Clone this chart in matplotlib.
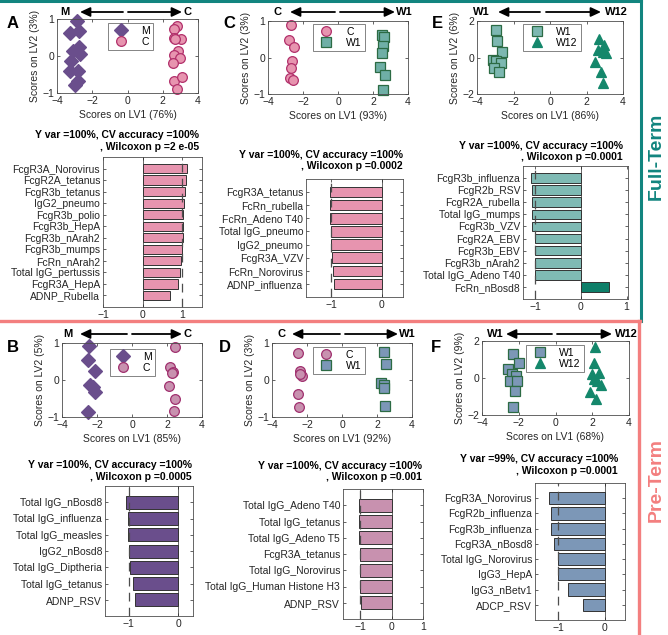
import matplotlib
matplotlib.use("Agg")
import matplotlib.pyplot as plt
from matplotlib.patches import FancyArrowPatch
from matplotlib.lines import Line2D

plt.rcParams['font.family'] = ['Liberation Sans', 'DejaVu Sans']

W, H = 668, 635

# ---------------- data: scores plots ----------------
# panel A  (M vs C, full-term)
a_m_x = [-2.88, -3.29, -2.76, -2.73, -3.10, -2.71, -3.20, -3.24, -2.83, -2.79, -3.00]
a_m_y = [0.95, 0.63, 0.68, 0.25, 0.13, 0.05, -0.13, -0.41, -0.41, -0.68, -0.79]
a_c_x = [2.82, 2.65, 2.61, 3.05, 2.86, 2.65, 2.96, 2.56, 2.61, 3.11, 2.81, 2.70]
a_c_y = [0.81, 0.72, 0.48, 0.45, 0.14, 0.02, -0.05, -0.20, -0.67, -0.58, -0.90, 0.45]
# panel C  (C vs W1, full-term)
c_c_x = [-2.69, -2.79, -2.50, -2.64, -2.69, -2.73, -2.60]
c_c_y = [0.90, 0.47, 0.28, -0.09, -0.30, -0.55, -0.62]
c_w_x = [2.54, 2.62, 2.58, 2.52, 2.39, 2.69, 2.56]
c_w_y = [0.63, 0.56, 0.31, 0.11, -0.25, -0.47, -0.89]
# panel E  (W1 vs W12, full-term)
e_w1_x = [-2.98, -2.90, -2.63, -3.14, -2.98, -2.70, -3.05, -2.81]
e_w1_y = [1.49, 0.91, 0.32, -0.14, -0.19, -0.28, -0.59, -0.82]
e_w12_x = [2.70, 2.94, 2.63, 2.89, 3.07, 2.47, 2.81, 2.89]
e_w12_y = [0.99, 0.68, 0.41, 0.32, 0.26, -0.24, -0.82, -1.41]
# panel B  (M vs C, pre-term)
b_m_x = [-2.44, -2.53, -2.10, -2.38, -2.13, -2.51, -2.25]
b_m_y = [0.91, 0.55, 0.23, -0.14, -0.32, -0.86, -0.19]
b_c_x = [2.44, 2.19, 2.34, 2.10, 2.48, 2.38, 2.28]
b_c_y = [0.89, 0.35, 0.22, -0.17, -0.50, -0.85, 0.20]
# panel D  (C vs W1, pre-term)
d_c_x = [-2.51, -2.42, -2.29, -2.42, -2.53, -2.44]
d_c_y = [0.73, 0.25, 0.11, 0.16, -0.38, -0.73]
d_w_x = [2.38, 2.50, 2.25, 2.38, 2.42, 2.48]
d_w_y = [0.75, 0.43, -0.07, -0.14, -0.21, -0.70]
# panel F  (W1 vs W12, pre-term)
f_w1_x = [-2.32, -1.99, -2.59, -2.37, -2.13, -2.46, -2.10, -2.19, -2.30]
f_w1_y = [1.28, 0.83, 0.51, 0.24, 0.10, -0.17, -0.17, -0.71, -1.59]
f_w12_x = [2.16, 2.08, 1.97, 2.35, 2.08, 2.26, 2.49, 1.86, 2.22]
f_w12_y = [1.68, 0.82, 0.24, 0.28, -0.03, -0.15, -0.40, -0.75, -1.16]

# ---------------- data: loadings bars ----------------
a_labels = ['FcgR3A_Norovirus', 'FcgR2A_tetanus', 'FcgR3b_tetanus', 'IgG2_pneumo',
            'FcgR3b_polio', 'FcgR3b_HepA', 'FcgR3b_nArah2', 'FcgR3b_mumps',
            'FcRn_nArah2', 'Total IgG_pertussis', 'FcgR3A_HepA', 'ADNP_Rubella']
a_vals = [1.11, 1.09, 1.08, 1.05, 1.03, 1.02, 1.02, 1.00, 0.98, 0.95, 0.90, 0.70]

c_labels = ['FcgR3A_tetanus', 'FcRn_rubella', 'FcRn_Adeno T40', 'Total IgG_pneumo',
            'IgG2_pneumo', 'FcgR3A_VZV', 'FcRn_Norovirus', 'ADNP_influenza']
c_vals = [-1.03, -1.02, -1.02, -1.00, -1.00, -0.99, -0.97, -0.94]

e_labels = ['FcgR3b_influenza', 'FcgR2b_RSV', 'FcgR2A_rubella', 'Total IgG_mumps',
            'FcgR3b_VZV', 'FcgR2A_EBV', 'FcgR3b_EBV', 'FcgR3b_nArah2',
            'Total IgG_Adeno T40', 'FcRn_nBosd8']
e_vals = [-1.09, -1.07, -1.07, -1.07, -1.07, -1.01, -1.01, -1.01, -1.01, 0.61]

b_labels = ['Total IgG_nBosd8', 'Total IgG_influenza', 'Total IgG_measles', 'IgG2_nBosd8',
            'Total IgG_Diptheria', 'Total IgG_tetanus', 'ADNP_RSV']
b_vals = [-1.05, -1.02, -1.02, -0.99, -0.98, -0.91, -0.88]

d_labels = ['Total IgG_Adeno T40', 'Total IgG_tetanus', 'Total IgG_Adeno T5', 'FcgR3A_tetanus',
            'Total IgG_Norovirus', 'Total IgG_Human Histone H3', 'ADNP_RSV']
d_vals = [-1.05, -1.05, -1.03, -1.00, -1.00, -1.00, -0.97]

f_labels = ['FcgR3A_Norovirus', 'FcgR2b_influenza', 'FcgR3b_influenza', 'FcgR3A_nBosd8',
            'Total IgG_Norovirus', 'IgG3_HepA', 'IgG3_nBetv1', 'ADCP_RSV']
f_vals = [-1.19, -1.16, -1.16, -1.09, -1.01, -1.01, -0.80, -0.46]

titles = {
    'A': ('Y var =100%, CV accuracy =100%', ', Wilcoxon p =2 e-05'),
    'C': ('Y var =100%, CV accuracy =100%', ', Wilcoxon p =0.0002'),
    'E': ('Y var =100%, CV accuracy =100%', ', Wilcoxon p =0.0001'),
    'B': ('Y var =100%, CV accuracy =100%', ', Wilcoxon p =0.0005'),
    'D': ('Y var =100%, CV accuracy =100%', ', Wilcoxon p =0.001'),
    'F': ('Y var =99%, CV accuracy =100%', ', Wilcoxon p =0.0001'),
}

# colours
PINK = '#E794AF'; PINK_E = '#B2306B'
MAUVE = '#C891AF'; MAUVE_E = '#A0306E'
PURPLE = '#6A4E8C'
TEAL = '#7DB8B1'; TEAL_D = '#0E7F69'; GREEN_E = '#2C6B44'
STEEL = '#7C97B7'
TRI = '#14876B'
FULL = '#12857F'; PRE = '#F37F7F'
GREY = '#262626'

FS = 7.5

fig = plt.figure(figsize=(W / 100, H / 100), dpi=100)


def box(l, t, r, b):
    return [l / W, 1 - b / H, (r - l) / W, (b - t) / H]


def fp(x, y):
    return (x / W, 1 - y / H)


def style(ax):
    for s in ax.spines.values():
        s.set_color('0.3')
        s.set_linewidth(0.6)
    ax.tick_params(direction='in', length=2.5, width=0.5, labelsize=FS,
                   colors=GREY, top=True, right=True, pad=2)


def scores(pos, groups, xlab, ylab, ylim, yticks, leg_xy):
    ax = fig.add_axes(box(*pos))
    for x, y, lab, mk, ms, fc, ec in groups:
        ax.plot(x, y, ls='none', marker=mk, ms=ms, mfc=fc, mec=ec, mew=0.9, label=lab,
                clip_on=False)
    ax.set_xlim(-4, 4)
    ax.set_ylim(*ylim)
    ax.set_xticks([-4, -2, 0, 2, 4])
    ax.set_yticks(yticks)
    style(ax)
    ax.set_xlabel(xlab, fontsize=FS, color=GREY, labelpad=3)
    ax.set_ylabel(ylab, fontsize=FS, color=GREY, labelpad=2)
    lg = ax.legend(loc='upper left', bbox_to_anchor=leg_xy, fontsize=FS, numpoints=1,
                   frameon=True, fancybox=False, edgecolor='0.3', handlelength=2.0,
                   handletextpad=0.9, borderpad=0.3, labelspacing=0.1, borderaxespad=0)
    lg.get_frame().set_linewidth(0.6)
    return ax


def loadings(pos, labels, vals, colors, xlim, xticks, ref, title, right, ty):
    ax = fig.add_axes(box(*pos))
    y = list(range(len(labels)))
    ax.barh(y, vals, height=0.8, color=colors, edgecolor='0.2', linewidth=0.7, zorder=2)
    ax.axvline(0, color='0.3', lw=0.6, zorder=1)
    ax.axvline(ref, color='0.3', lw=0.9, ls=(0, (7, 5)), zorder=3)
    ax.set_yticks(y)
    ax.set_yticklabels(labels)
    ax.set_ylim(len(labels), -1)
    ax.set_xlim(*xlim)
    ax.set_xticks(xticks)
    style(ax)
    fig.text(*fp(right, ty), title[0], ha='right', va='center', fontsize=FS, weight='bold')
    fig.text(*fp(right, ty + 11.5), title[1], ha='right', va='center', fontsize=FS, weight='bold')
    return ax


def arrows(left_lab, right_lab, xl, xa1, xa2, xb1, xb2, xr, y):
    fig.text(*fp(xl, y), left_lab, ha='center', va='center', fontsize=FS + 0.5, weight='bold')
    fig.text(*fp(xr, y), right_lab, ha='center', va='center', fontsize=FS + 0.5, weight='bold')
    for p0, p1 in ((fp(xa1, y), fp(xa2, y)), (fp(xb1, y), fp(xb2, y))):
        fig.add_artist(FancyArrowPatch(p0, p1, transform=fig.transFigure,
                                       arrowstyle='-|>,head_length=6,head_width=2.8',
                                       color='k', lw=1.3, shrinkA=0, shrinkB=0))


# ---------------- scores plots ----------------
scores((57, 19, 198, 93),
       [(a_m_x, a_m_y, 'M', 'D', 7.0, PURPLE, PURPLE),
        (a_c_x, a_c_y, 'C', 'o', 7.0, PINK, PINK_E)],
       'Scores on LV1 (76%)', 'Scores on LV2 (3%)', (-1, 1), [-1, 0, 1], (0.36, 0.95))
scores((268, 21, 408, 94),
       [(c_c_x, c_c_y, 'C', 'o', 7.0, PINK, PINK_E),
        (c_w_x, c_w_y, 'W1', 's', 6.5, '#6FAFA6', GREEN_E)],
       'Scores on LV1 (93%)', 'Scores on LV2 (3%)', (-1, 1), [-1, 0, 1], (0.32, 0.96))
scores((477, 21, 623, 94),
       [(e_w1_x, e_w1_y, 'W1', 's', 6.5, TEAL, GREEN_E),
        (e_w12_x, e_w12_y, 'W12', '^', 7.2, TRI, TRI)],
       'Scores on LV1 (86%)', 'Scores on LV2 (6%)', (-2, 2), [-2, 0, 2], (0.315, 0.96))
scores((62, 343, 202, 417),
       [(b_m_x, b_m_y, 'M', 'D', 7.0, PURPLE, PURPLE),
        (b_c_x, b_c_y, 'C', 'o', 7.0, MAUVE, MAUVE_E)],
       'Scores on LV1 (85%)', 'Scores on LV2 (5%)', (-1, 1), [-1, 0, 1], (0.34, 0.92))
scores((272, 343, 412, 417),
       [(d_c_x, d_c_y, 'C', 'o', 7.0, MAUVE, MAUVE_E),
        (d_w_x, d_w_y, 'W1', 's', 6.5, STEEL, GREEN_E)],
       'Scores on LV1 (92%)', 'Scores on LV2 (3%)', (-1, 1), [-1, 0, 1], (0.29, 0.95))
scores((482, 341, 629, 415),
       [(f_w1_x, f_w1_y, 'W1', 's', 6.5, STEEL, GREEN_E),
        (f_w12_x, f_w12_y, 'W12', '^', 7.2, TRI, TRI)],
       'Scores on LV1 (68%)', 'Scores on LV2 (9%)', (-2, 2), [-2, 0, 2], (0.30, 0.95))

# ---------------- loadings ----------------
loadings((103, 157, 202, 307), a_labels, a_vals, PINK, (-1, 1.5), [-1, 0, 1], 1,
         titles['A'], 199, 135)
loadings((306, 179, 403, 297), c_labels, c_vals, PINK, (-1.5, 0.42), [-1, 0], -1,
         titles['C'], 403, 155)
e_cols = [TEAL_D if v > 0 else '#7FBAB4' for v in e_vals]
loadings((523, 166, 628, 299), e_labels, e_vals, e_cols, (-1.27, 1.03), [-1, 0, 1], -1,
         titles['E'], 623, 146)
loadings((105, 486, 193, 616), b_labels, b_vals, PURPLE, (-1.48, 0.3), [-1, 0], -1,
         titles['B'], 192, 465)
loadings((343, 489, 423, 619), d_labels, d_vals, MAUVE, (-1.55, 1.0), [-1, 0, 1], -1,
         titles['D'], 422, 466)
loadings((535, 483, 625, 620), f_labels, f_vals, STEEL, (-1.5, 0.43), [-1, 0], -1,
         titles['F'], 618, 459)

# ---------------- arrows above score plots ----------------
arrows('M', 'C', 65, 123, 80, 128, 182, 188, 12)
arrows('C', 'W1', 277, 335, 290, 340, 395, 404, 12)
arrows('W1', 'W12', 481, 540, 498, 546, 601, 616, 12)
arrows('M', 'C', 68, 127, 80, 132, 182, 187, 334)
arrows('C', 'W1', 281, 340, 292, 345, 398, 407, 334)
arrows('W1', 'W12', 495, 552, 506, 557, 612, 626, 334)

# ---------------- panel letters ----------------
for lab, x, y in [('A', 13, 24), ('C', 229, 24), ('E', 437, 24),
                  ('B', 13, 347), ('D', 225, 347), ('F', 436, 347)]:
    fig.text(*fp(x, y), lab, ha='center', va='center', fontsize=12, weight='bold')

# ---------------- frames ----------------
fig.add_artist(Line2D([0, 641 / W], [1 - 1 / H, 1 - 1 / H], transform=fig.transFigure,
                      color=FULL, lw=2.2))
fig.add_artist(Line2D([641 / W, 641 / W], [1 - 1 / H, 1 - 321 / H], transform=fig.transFigure,
                      color=FULL, lw=2.2))
fig.add_artist(Line2D([0, 640 / W], [1 - 321 / H, 1 - 321 / H], transform=fig.transFigure,
                      color=PRE, lw=2.4))
fig.add_artist(Line2D([639 / W, 639 / W], [1 - 321 / H, 0], transform=fig.transFigure,
                      color=PRE, lw=2.4))
fig.text(*fp(656, 156), 'Full-Term', rotation=90, ha='center', va='center',
         fontsize=14, weight='bold', color=FULL)
fig.text(*fp(656, 480), 'Pre-Term', rotation=90, ha='center', va='center',
         fontsize=14, weight='bold', color=PRE)

fig.savefig('out.png', dpi=100)
